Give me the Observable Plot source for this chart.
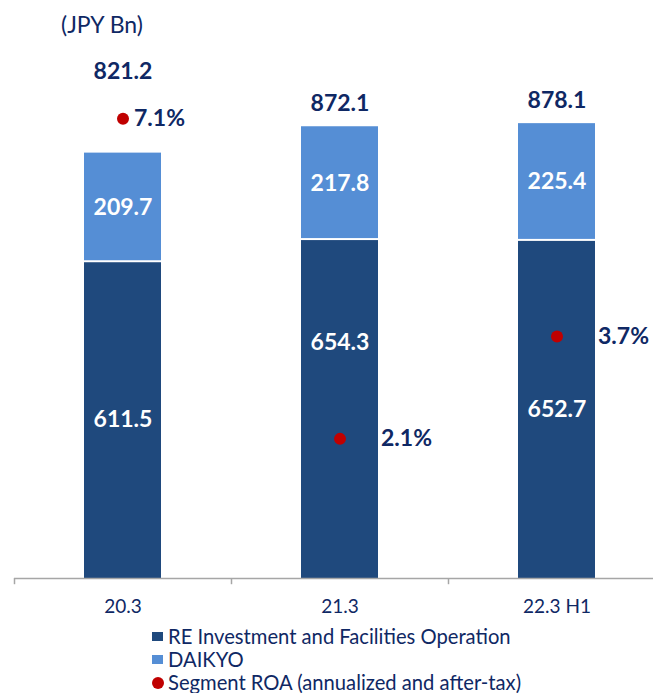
<!DOCTYPE html>
<html>
<head>
<meta charset="utf-8">
<script src="https://cdn.jsdelivr.net/npm/d3@7"></script>
<script src="https://cdn.jsdelivr.net/npm/@observablehq/plot@0.6"></script>
<style>
  html, body { margin: 0; padding: 0; background: #fff; }
  body { width: 653px; height: 693px; position: relative; overflow: hidden; font-family: Lato, "Open Sans", sans-serif; }
  #chart svg { display: block; }
  #unit { position: absolute; left: 61px; top: 10px; font-size: 23px; color: #0F2864; line-height: 28px; }
  #legend { position: absolute; left: 152px; top: 625px; font-size: 20.2px; color: #0F2864; }
  .row { height: 23px; line-height: 23px; display: flex; align-items: center; white-space: nowrap; }
  .sw { width: 11px; height: 9px; margin-right: 5px; flex: none; }
  .dotsw { width: 12px; height: 12px; border-radius: 50%; margin-right: 4px; flex: none; }
</style>
</head>
<body>
<div id="unit">(JPY Bn)</div>
<div id="chart"></div>
<div id="legend"></div>
<script>
const categories = ["20.3", "21.3", "22.3 H1"];
const reInvestment = [611.5, 654.3, 652.7];
const daikyo = [209.7, 217.8, 225.4];
const totals = [821.2, 872.1, 878.1];
const segmentROA = [7.1, 2.1, 3.7];
const legendLabels = ["RE Investment and Facilities Operation", "DAIKYO", "Segment ROA (annualized and after-tax)"];

const DARK = "#1F497D", LIGHT = "#558ED5", RED = "#C00000", NAVY = "#0F2864", GRID = "#A6A6A6";

const data = categories.map((c, i) => ({
  cat: c, re: reInvestment[i], dk: daikyo[i], total: totals[i], roa: segmentROA[i]
}));

// secondary (ROA %) axis expressed in primary-axis units
const roaToY = v => 10 + v * 123.6;

const first = data.filter((d, i) => i === 0);
const rest = data.filter((d, i) => i > 0);

const bold = {fontWeight: "bold", fontSize: 23, fontFamily: "Lato, sans-serif"};

const plot = Plot.plot({
  width: 653,
  height: 622,
  marginTop: 60,
  marginBottom: 44,
  marginLeft: 14,
  marginRight: 0,
  style: {fontFamily: "Lato, sans-serif", background: "white", overflow: "visible"},
  x: {domain: categories, range: [14, 665], paddingInner: 0.645, paddingOuter: 0.3225, axis: null},
  y: {domain: [0, 1000], axis: null},
  marks: [
    Plot.barY(data, {x: "cat", y1: 0, y2: "re", fill: DARK, insetTop: 1}),
    Plot.barY(data, {x: "cat", y1: "re", y2: d => d.re + d.dk, fill: LIGHT, insetBottom: 1}),
    Plot.ruleY([0], {stroke: GRID, strokeWidth: 1.5}),
    Plot.ruleX(categories, {x: d => d, dx: -108.5, y1: 0, y2: -12, stroke: GRID, strokeWidth: 1.5}),
    // category labels
    Plot.text(categories, {x: d => d, y: 0, dy: 28, lineAnchor: "middle", fill: NAVY, fontSize: 19, fontFamily: "Lato, sans-serif"}),
    // segment labels
    Plot.text(data, {x: "cat", y: d => d.re + d.dk / 2, text: d => d.dk.toFixed(1), fill: "white", lineAnchor: "middle", ...bold}),
    Plot.text(data.filter((d, i) => i !== 1), {x: "cat", y: d => d.re / 2, text: d => d.re.toFixed(1), fill: "white", lineAnchor: "middle", ...bold}),
    Plot.text(data.filter((d, i) => i === 1), {x: "cat", y: d => d.re / 2, dy: -66, text: d => d.re.toFixed(1), fill: "white", lineAnchor: "middle", ...bold}),
    // totals
    Plot.text(first, {x: "cat", y: "total", dy: -81, text: d => d.total.toFixed(1), fill: NAVY, lineAnchor: "middle", ...bold}),
    Plot.text(rest, {x: "cat", y: "total", dy: -23, text: d => d.total.toFixed(1), fill: NAVY, lineAnchor: "middle", ...bold}),
    // ROA dots + labels
    Plot.dot(data, {x: "cat", y: d => roaToY(d.roa), r: 6, fill: RED, stroke: "none"}),
    Plot.text(first, {x: "cat", y: d => roaToY(d.roa), dx: 11, text: d => d.roa.toFixed(1) + "%", textAnchor: "start", lineAnchor: "middle", fill: NAVY, ...bold}),
    Plot.text(rest, {x: "cat", y: d => roaToY(d.roa), dx: 41, text: d => d.roa.toFixed(1) + "%", textAnchor: "start", lineAnchor: "middle", fill: NAVY, ...bold})
  ]
});
document.getElementById("chart").appendChild(plot);

const legend = document.getElementById("legend");
const swatches = [
  `<span class="sw" style="background:${DARK}"></span>`,
  `<span class="sw" style="background:${LIGHT}"></span>`,
  `<span class="dotsw" style="background:${RED}"></span>`
];
legendLabels.forEach((t, i) => {
  const row = document.createElement("div");
  row.className = "row";
  row.innerHTML = swatches[i] + `<span>${t}</span>`;
  legend.appendChild(row);
});
</script>
</body>
</html>
